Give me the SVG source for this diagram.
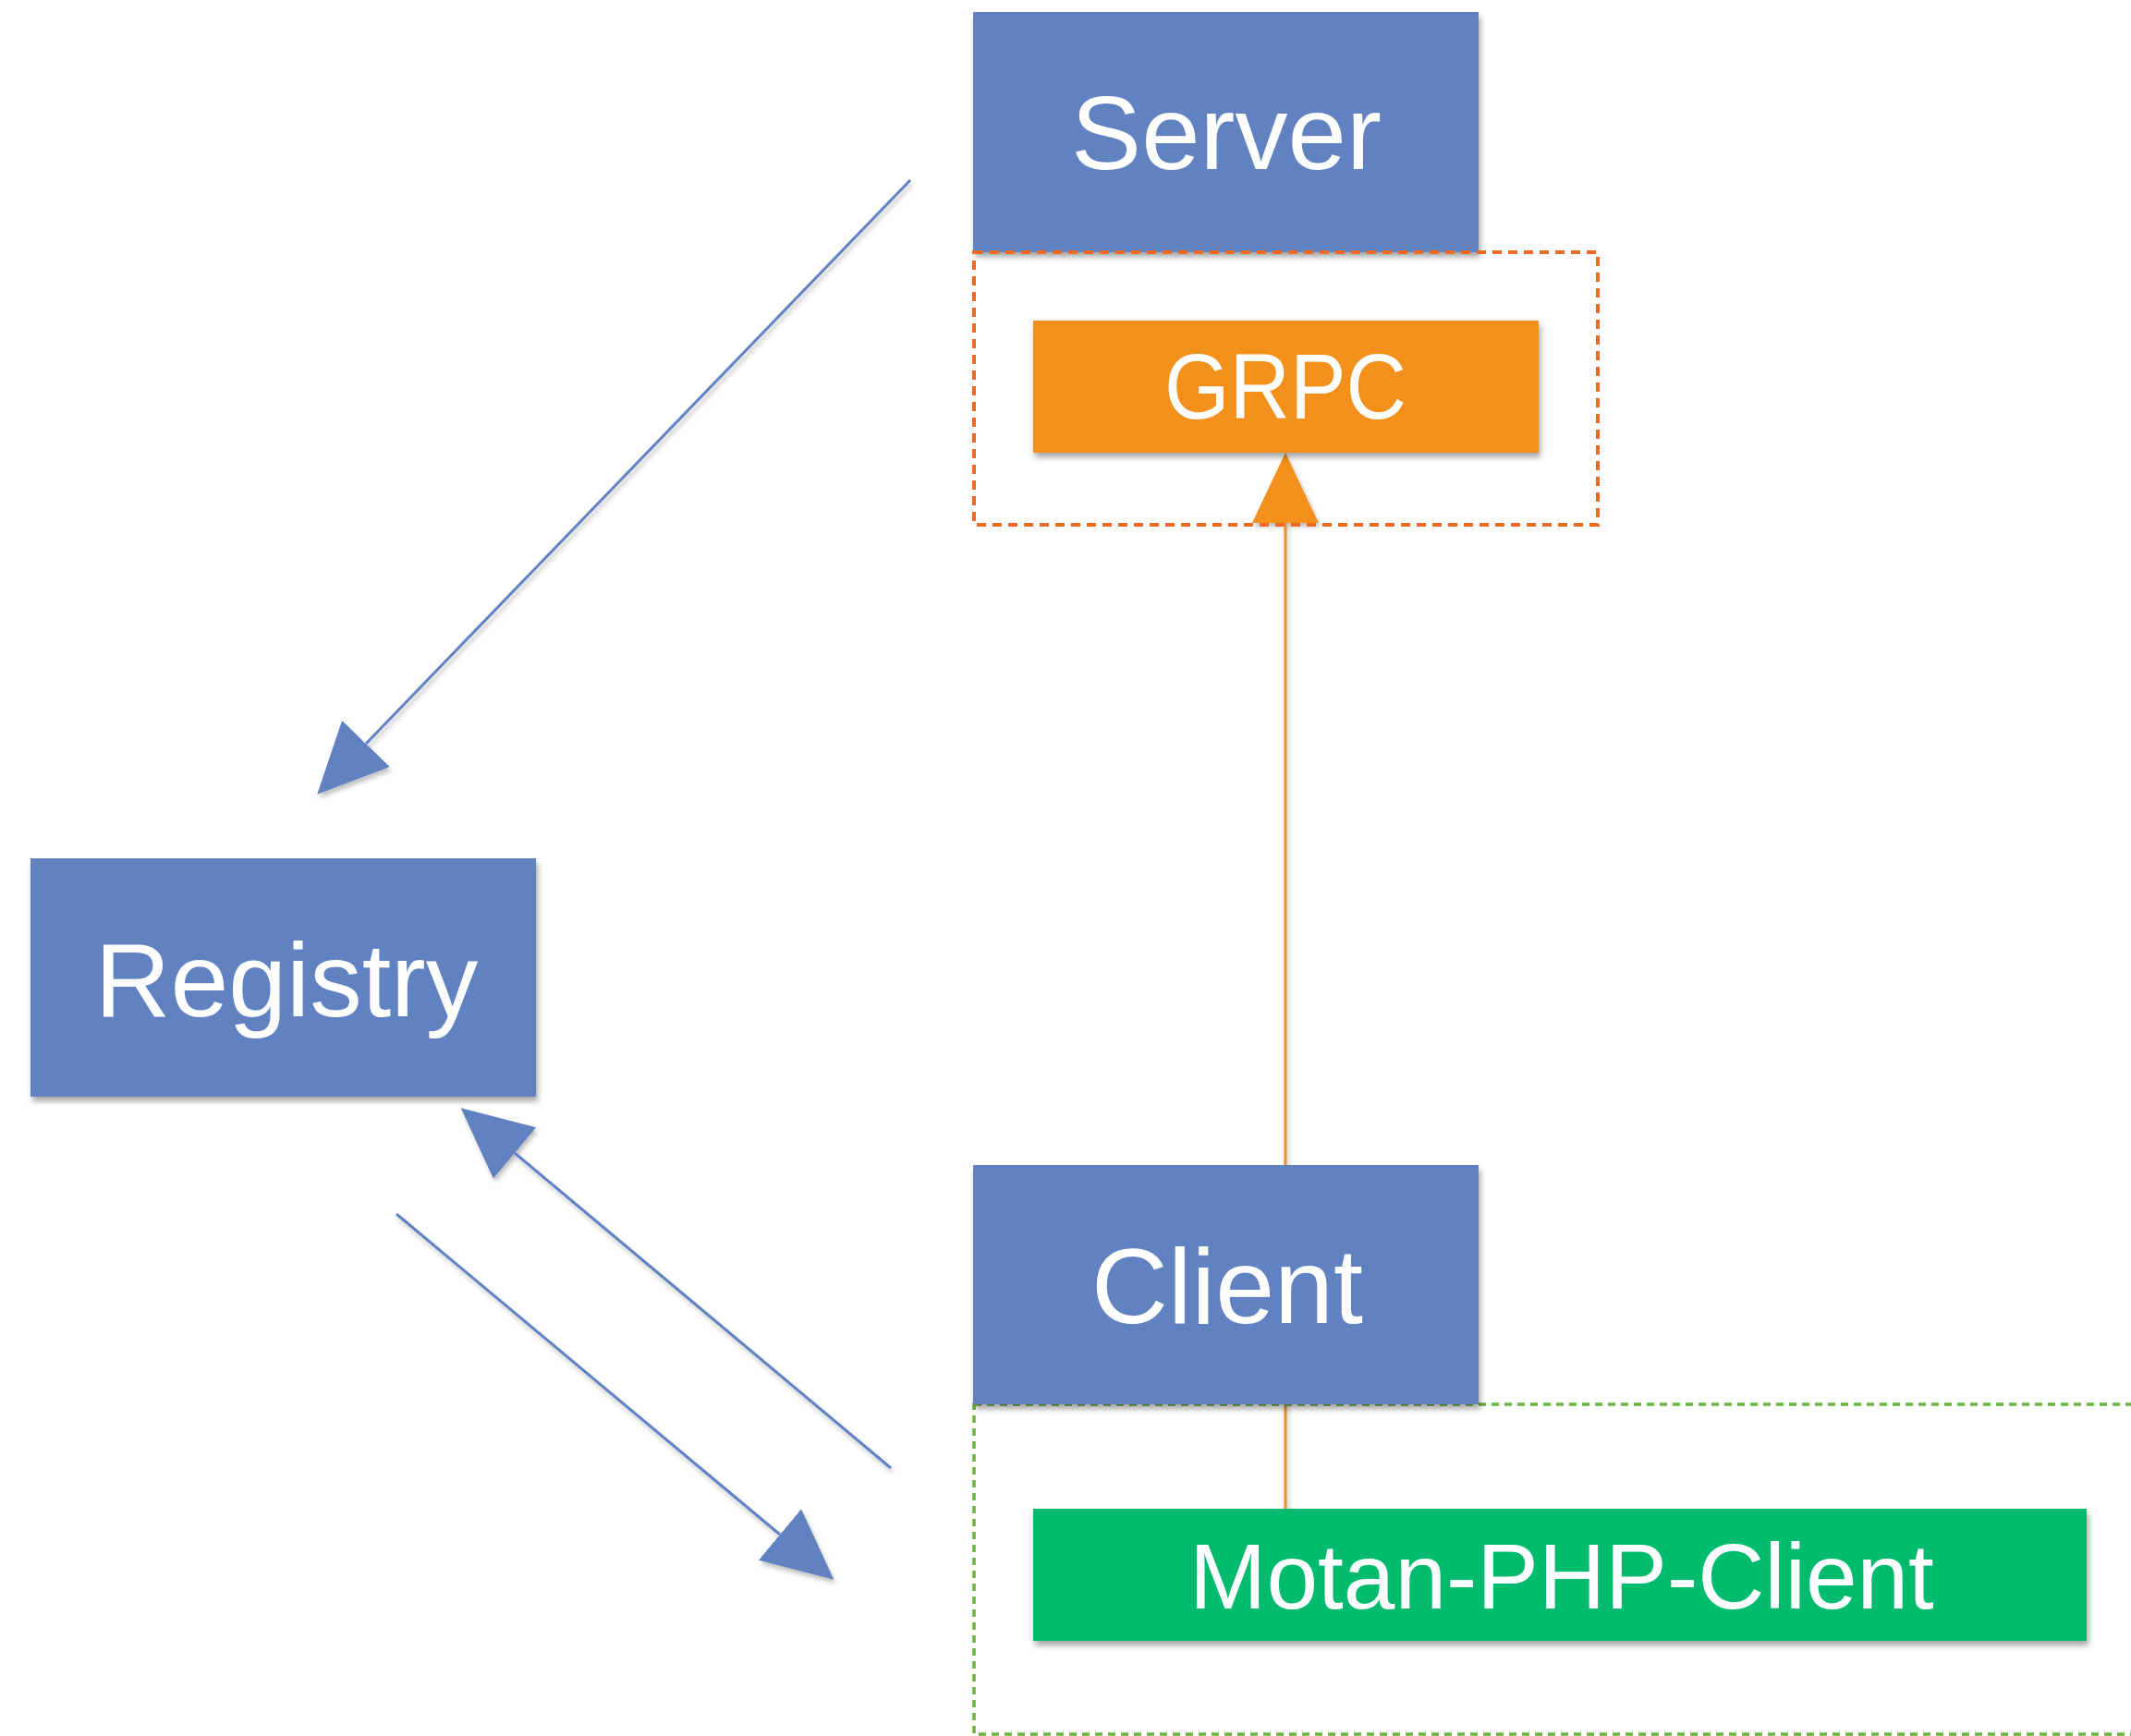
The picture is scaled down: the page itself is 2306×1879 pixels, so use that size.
<svg xmlns="http://www.w3.org/2000/svg" width="2306" height="1879" viewBox="0 0 2306 1879">
<style>
.lbl{font-family:"Liberation Sans",Arial,sans-serif;fill:#ffffff;text-anchor:middle}
.blue{fill:#6082c1}
.conn{fill:none;stroke-width:3}
</style>
<defs>
<filter id="sh" x="-10%" y="-10%" width="130%" height="130%">
<feDropShadow dx="2" dy="5" stdDeviation="3" flood-color="#000" flood-opacity="0.35"/>
</filter>
<filter id="lsh" x="-10%" y="-10%" width="130%" height="130%">
<feDropShadow dx="2" dy="4" stdDeviation="2.5" flood-color="#000" flood-opacity="0.25"/>
</filter>
<marker id="ab" viewBox="0 0 76 72" refX="0" refY="36" markerWidth="76" markerHeight="72" markerUnits="userSpaceOnUse" orient="auto">
<path d="M0,0 L76,36 L0,72 Z" fill="#6082c1"/>
</marker>
<marker id="ao" viewBox="0 0 76 72" refX="0" refY="36" markerWidth="76" markerHeight="72" markerUnits="userSpaceOnUse" orient="auto">
<path d="M0,0 L76,36 L0,72 Z" fill="#f3901c"/>
</marker>
</defs>
<rect width="2306" height="1879" fill="#ffffff"/>

<g id="connectors" filter="url(#lsh)">
<line class="conn" x1="1391" y1="1633" x2="1391" y2="566" stroke="#f0901e" marker-end="url(#ao)"/>
<line class="conn" x1="985" y1="195" x2="396" y2="805" stroke="#6082c1" marker-end="url(#ab)"/>
<line class="conn" x1="964" y1="1589" x2="557" y2="1248" stroke="#6082c1" marker-end="url(#ab)"/>
<line class="conn" x1="429" y1="1314" x2="844" y2="1661" stroke="#6082c1" marker-end="url(#ab)"/>
</g>

<g id="server">
<rect class="blue" x="1053" y="13" width="547" height="260" filter="url(#sh)"/>
<text class="lbl" x="1327" y="183" font-size="114">Server</text>
</g>

<g id="grpc-group">
<rect x="1054" y="273" width="675" height="295" fill="none" stroke="#ee6a24" stroke-width="4" stroke-dasharray="10 7"/>
</g>

<g id="grpc">
<rect x="1118" y="347" width="547" height="143" fill="#f3901c" filter="url(#sh)"/>
<text class="lbl" x="1391" y="453" font-size="100" textLength="262" lengthAdjust="spacingAndGlyphs">GRPC</text>
</g>

<g id="registry">
<rect class="blue" x="33" y="929" width="547" height="258" filter="url(#sh)"/>
<text class="lbl" x="310" y="1100" font-size="113">Registry</text>
</g>

<g id="client-group">
<rect x="1054" y="1520" width="1270" height="357" fill="none" stroke="#6db33f" stroke-width="3.5" stroke-dasharray="8 6"/>
</g>

<g id="client">
<rect class="blue" x="1053" y="1261" width="547" height="259" filter="url(#sh)"/>
<text class="lbl" x="1328" y="1432" font-size="115">Client</text>
</g>

<g id="motan">
<rect x="1118" y="1633" width="1140" height="143" fill="#03bb6e" filter="url(#sh)"/>
<text class="lbl" x="1690" y="1741" font-size="100">Motan-PHP-Client</text>
</g>
</svg>
